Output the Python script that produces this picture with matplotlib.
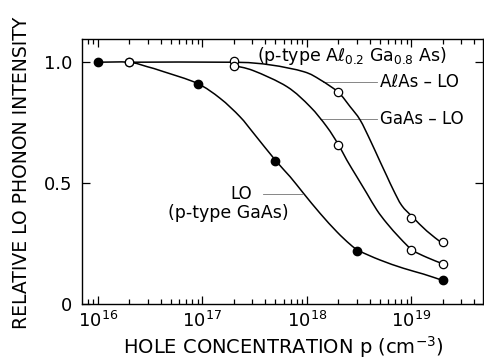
import matplotlib
matplotlib.use("Agg")
import matplotlib.pyplot as plt
from matplotlib.path import Path
from matplotlib.patches import PathPatch
from matplotlib.ticker import LogLocator, FixedLocator, FixedFormatter, NullFormatter
import numpy as np

# measured points: hole concentration p (cm^-3) and relative LO intensity
gaas_p = [1e16, 9e16, 5e17, 3e18, 2e19]
gaas_lo = [1.0, 0.91, 0.59, 0.22, 0.10]

algaas_gaas_p = [2e16, 2e17, 2e18, 1e19, 2e19]
algaas_gaas_lo = [1.0, 0.986, 0.66, 0.225, 0.168]

algaas_alas_p = [2e16, 2e17, 2e18, 1e19, 2e19]
algaas_alas_lo = [1.0, 1.004, 0.876, 0.358, 0.256]

# hand-drawn guide curves, traced as (log10 p, intensity)
gaas_curve_logp = [16.0, 16.30, 16.47, 16.63, 16.95, 17.17, 17.36, 17.49, 17.705,
                   17.84, 17.967, 18.126, 18.286, 18.413, 18.50, 18.70, 18.923,
                   19.115, 19.29]
gaas_curve_lo = [1.0, 1.0, 0.982, 0.961, 0.913, 0.851, 0.775, 0.707, 0.592,
                 0.527, 0.459, 0.376, 0.300, 0.248, 0.221, 0.183, 0.149,
                 0.125, 0.100]

mid_curve_logp = [17.30, 17.49, 17.81, 18.03, 18.19, 18.30, 18.382, 18.478,
                  18.573, 18.669, 18.765, 18.892, 19.01, 19.147, 19.29]
mid_curve_lo = [0.986, 0.965, 0.899, 0.817, 0.734, 0.661, 0.596, 0.527,
                0.459, 0.390, 0.335, 0.273, 0.224, 0.194, 0.169]

top_curve_logp = [16.30, 17.30, 17.65, 17.97, 18.13, 18.30, 18.413, 18.509,
                  18.605, 18.70, 18.765, 18.828, 18.908, 19.013, 19.147, 19.284]
top_curve_lo = [1.0, 1.0, 0.989, 0.961, 0.927, 0.876, 0.817, 0.762,
                0.679, 0.590, 0.530, 0.472, 0.408, 0.360, 0.303, 0.256]


def smooth_path(logp, y):
    """Catmull-Rom through the traced points, as cubic Bezier pieces."""
    pts = np.column_stack([logp, y])
    ext = np.vstack([pts[0], pts, pts[-1]])
    verts = [pts[0]]
    codes = [Path.MOVETO]
    for i in range(len(pts) - 1):
        p0, p1, p2, p3 = ext[i], ext[i + 1], ext[i + 2], ext[i + 3]
        verts += [p1 + (p2 - p0) / 6, p2 - (p3 - p1) / 6, p2]
        codes += [Path.CURVE4] * 3
    verts = np.array(verts)
    verts[:, 0] = 10 ** verts[:, 0]
    return Path(verts, codes)


plt.rcParams['font.family'] = ['DejaVu Sans']
plt.rcParams['mathtext.default'] = 'regular'

fig = plt.figure(figsize=(4.85, 3.61), dpi=100)
ax = fig.add_axes([82 / 485, 1 - 304.3 / 361, 401.5 / 485, 265.3 / 361])

for lp, lo in [(gaas_curve_logp, gaas_curve_lo),
               (mid_curve_logp, mid_curve_lo),
               (top_curve_logp, top_curve_lo)]:
    ax.add_patch(PathPatch(smooth_path(lp, lo), facecolor='none',
                           edgecolor='black', lw=1.1, zorder=2))

ms = 6
ax.plot(algaas_alas_p, algaas_alas_lo, 'o', ms=ms, mfc='white', mec='black',
        mew=0.9, zorder=3)
ax.plot(algaas_gaas_p, algaas_gaas_lo, 'o', ms=ms, mfc='white', mec='black',
        mew=0.9, zorder=3)
ax.plot(gaas_p, gaas_lo, 'o', ms=ms, mfc='black', mec='black', zorder=3)

ax.set_xscale('log')
ax.set_xlim(10 ** 15.849, 10 ** 19.69)
ax.set_ylim(0, 1.096)

ax.xaxis.set_major_locator(FixedLocator([1e16, 1e17, 1e18, 1e19]))
ax.xaxis.set_minor_locator(LogLocator(base=10, subs=np.arange(2, 10), numticks=20))
ax.xaxis.set_minor_formatter(NullFormatter())
ax.yaxis.set_major_locator(FixedLocator([0, 0.5, 1.0]))
ax.yaxis.set_major_formatter(FixedFormatter(['0', '0.5', '1.0']))

ax.tick_params(which='both', direction='in', top=True, right=True, width=0.9,
               labelsize=13)
ax.tick_params(axis='x', which='major', length=6, pad=5)
ax.tick_params(axis='x', which='minor', length=3.5)
ax.tick_params(axis='y', which='major', length=6, pad=7)
for s in ax.spines.values():
    s.set_linewidth(1.0)

# labels on the curves
tfs = 12
ax.text(10 ** 17.52, 1.026, '(p-type A\u2113$_{0.2}$ Ga$_{0.8}$ As)',
        fontsize=12.5, ha='left', va='center')

lead = dict(color='0.45', lw=0.6, zorder=1)
ax.plot([10 ** 18.15, 10 ** 18.67], [0.917, 0.917], **lead)
ax.text(10 ** 18.70, 0.917, 'A\u2113As \u2013 LO', fontsize=tfs, ha='left', va='center')

ax.plot([10 ** 18.13, 10 ** 18.67], [0.766, 0.766], **lead)
ax.text(10 ** 18.70, 0.766, 'GaAs \u2013 LO', fontsize=tfs, ha='left', va='center')

ax.plot([10 ** 17.58, 10 ** 17.95], [0.456, 0.456], **lead)
ax.text(10 ** 17.375, 0.456, 'LO', fontsize=tfs, ha='center', va='center')
ax.text(10 ** 17.25, 0.377, '(p-type GaAs)', fontsize=12.5, ha='center', va='center')

fig.text(22 / 485, 1 - 173 / 361, 'RELATIVE LO PHONON INTENSITY', rotation=90,
         fontsize=13.5, ha='center', va='center')
fig.text(283.5 / 485, 1 - 347 / 361, 'HOLE CONCENTRATION p (cm$^{-3}$)',
         fontsize=14, ha='center', va='center')

fig.savefig('out.png', dpi=100)
